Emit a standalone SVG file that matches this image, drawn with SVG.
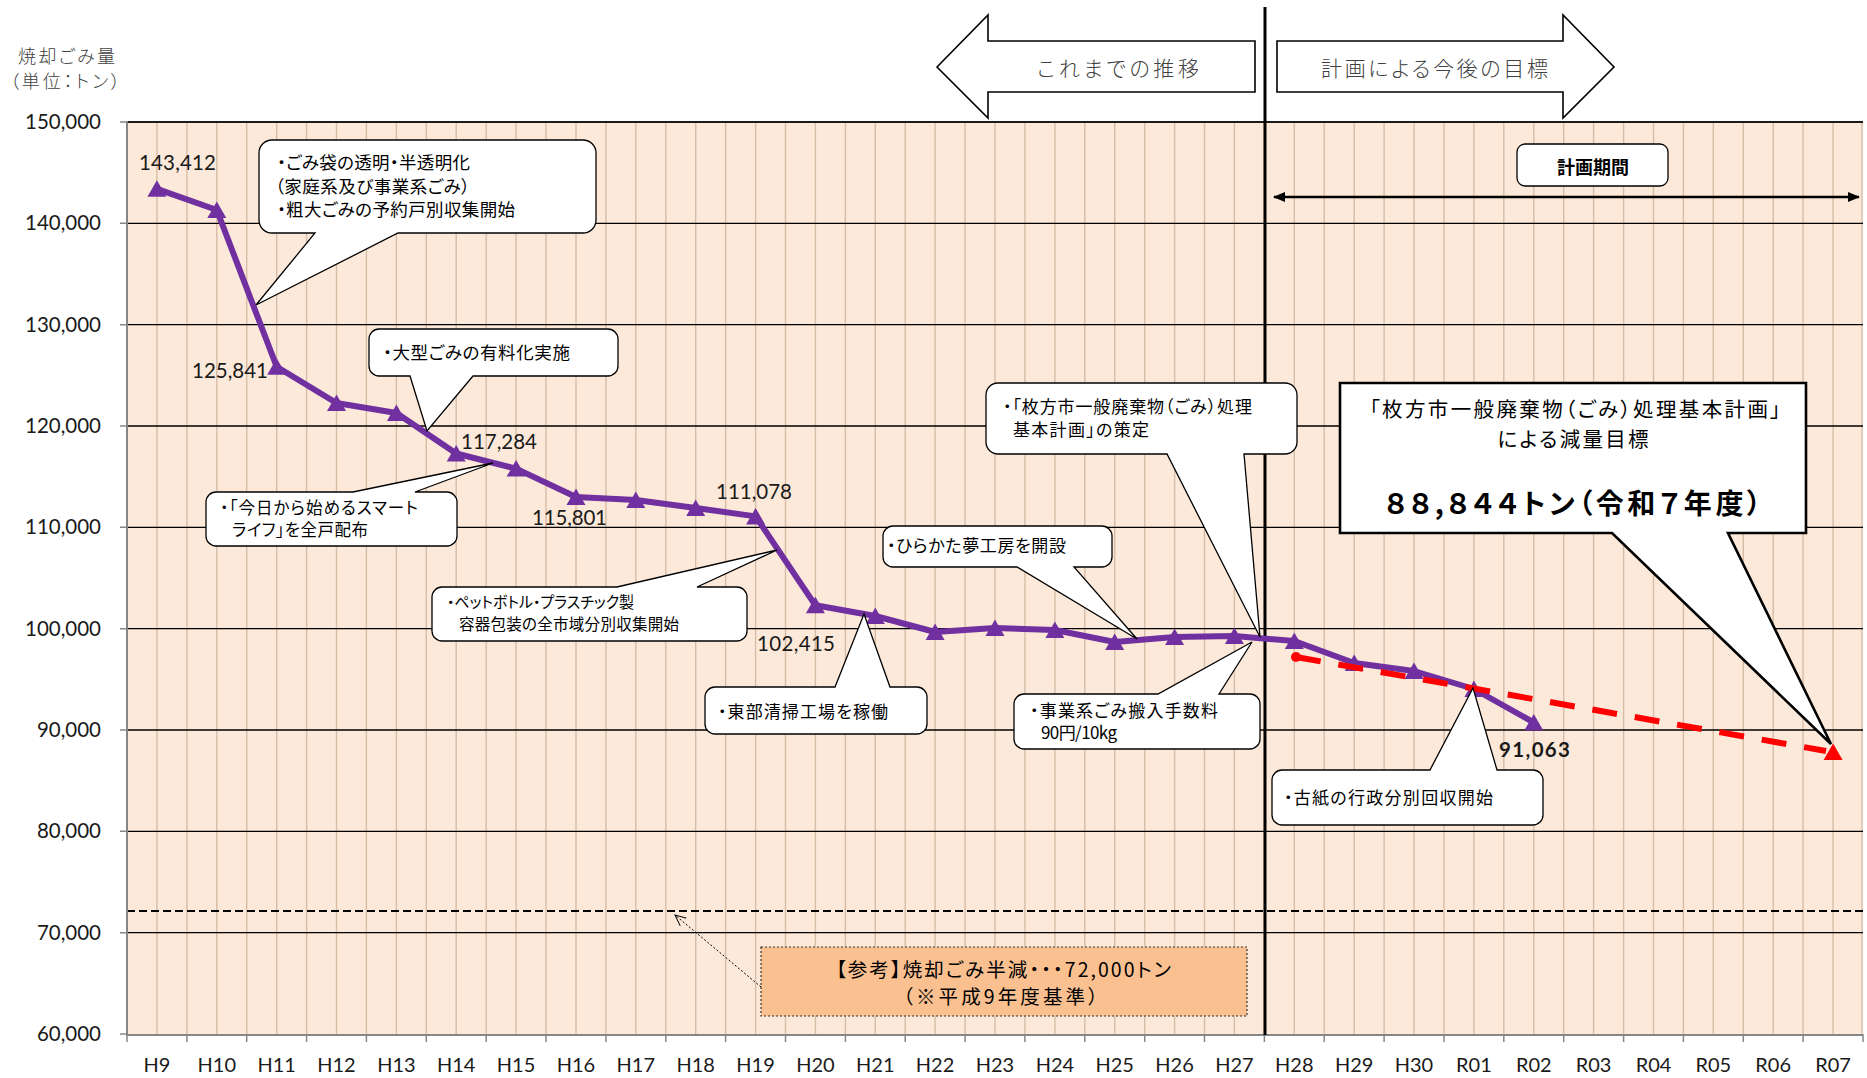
<svg xmlns="http://www.w3.org/2000/svg" xmlns:xlink="http://www.w3.org/1999/xlink" width="1867" height="1078" viewBox="0 0 1867 1078">
<style>
.num{font-family:Lato,"Liberation Sans",sans-serif;font-size:20.5px;fill:#1a1a1a}
.ax{font-family:Lato,"Liberation Sans",sans-serif;font-size:20px;fill:#1a1a1a}
.jp{font-family:"Noto Sans CJK JP","Noto Sans",sans-serif;fill:#000;font-feature-settings:"palt"}
.thin{font-family:"Noto Sans CJK JP","Noto Sans",sans-serif;font-weight:300;fill:#404040;font-feature-settings:"palt"}
.bub{fill:#fff;stroke:#000;stroke-width:1.3;stroke-linejoin:miter}
.grid{stroke:#000;stroke-width:1.3;fill:none}
.vgrid{stroke:#d6bda7;stroke-width:1.4;fill:none}
</style>
<defs>
<path id="tri" d="M0,-8.5 L9.5,8 L-9.5,8 Z"/>
<marker id="ah" viewBox="0 0 12 10" refX="11" refY="5" markerWidth="12" markerHeight="10" markerUnits="userSpaceOnUse" orient="auto-start-reverse">
<path d="M0,0 L12,5 L0,10 Z" fill="#000"/>
</marker>
<marker id="open" viewBox="0 0 12 12" refX="11" refY="6" markerWidth="12" markerHeight="12" markerUnits="userSpaceOnUse" orient="auto">
<path d="M0,1 L11,6 L0,11" fill="none" stroke="#000" stroke-width="1"/>
</marker>
</defs>
<rect width="1867" height="1078" fill="#fff"/>

<g id="plot">
<rect x="127" y="122" width="1736" height="912" fill="#fde9d9"/>
<path class="vgrid" d="M156.9,122V1034M186.9,122V1034M216.8,122V1034M246.7,122V1034M276.7,122V1034M306.6,122V1034M336.5,122V1034M366.4,122V1034M396.4,122V1034M426.3,122V1034M456.2,122V1034M486.2,122V1034M516.1,122V1034M546,122V1034M576,122V1034M605.9,122V1034M635.8,122V1034M665.8,122V1034M695.7,122V1034M725.6,122V1034M755.6,122V1034M785.5,122V1034M815.4,122V1034M845.4,122V1034M875.3,122V1034M905.2,122V1034M935.1,122V1034M965.1,122V1034M995,122V1034M1024.9,122V1034M1054.9,122V1034M1084.8,122V1034M1114.7,122V1034M1144.7,122V1034M1174.6,122V1034M1204.5,122V1034M1234.4,122V1034M1264.4,122V1034M1294.3,122V1034M1324.2,122V1034M1354.2,122V1034M1384.1,122V1034M1414,122V1034M1444,122V1034M1473.9,122V1034M1503.8,122V1034M1533.8,122V1034M1563.7,122V1034M1593.6,122V1034M1623.6,122V1034M1653.5,122V1034M1683.4,122V1034M1713.3,122V1034M1743.3,122V1034M1773.2,122V1034M1803.1,122V1034M1833.1,122V1034M1862,122V1034"/>
<path class="grid" d="M127,223.3H1863M127,324.7H1863M127,426H1863M127,527.3H1863M127,628.7H1863M127,730H1863M127,831.3H1863M127,932.7H1863"/>
<path d="M127,122H1863" stroke="#1a1a1a" stroke-width="2.2"/>
<path d="M127,911H1863" stroke="#000" stroke-width="2" stroke-dasharray="8,4"/>
<path d="M127,121V1035H1863" fill="none" stroke="#868686" stroke-width="2"/>
<path d="M120,122H127M120,223.3H127M120,324.7H127M120,426H127M120,527.3H127M120,628.7H127M120,730H127M120,831.3H127M120,932.7H127M120,1034H127" stroke="#868686" stroke-width="1.5"/>
<path d="M127,1034V1042M186.9,1034V1042M246.7,1034V1042M306.6,1034V1042M366.4,1034V1042M426.3,1034V1042M486.2,1034V1042M546,1034V1042M605.9,1034V1042M665.8,1034V1042M725.6,1034V1042M785.5,1034V1042M845.4,1034V1042M905.2,1034V1042M965.1,1034V1042M1024.9,1034V1042M1084.8,1034V1042M1144.7,1034V1042M1204.5,1034V1042M1264.4,1034V1042M1324.2,1034V1042M1384.1,1034V1042M1444,1034V1042M1503.8,1034V1042M1563.7,1034V1042M1623.6,1034V1042M1683.4,1034V1042M1743.3,1034V1042M1803.1,1034V1042M1863,1034V1042" stroke="#868686" stroke-width="1.5"/>
</g>

<g id="y-axis" class="num" text-anchor="end">
<text x="101" y="129">150,000</text>
<text x="101" y="230.3">140,000</text>
<text x="101" y="331.7">130,000</text>
<text x="101" y="433">120,000</text>
<text x="101" y="534.3">110,000</text>
<text x="101" y="635.7">100,000</text>
<text x="101" y="737">90,000</text>
<text x="101" y="838.3">80,000</text>
<text x="101" y="939.7">70,000</text>
<text x="101" y="1041">60,000</text>
</g>
<g id="y-title" class="thin" font-size="18">
<text x="18" y="63" textLength="97" lengthAdjust="spacing">焼却ごみ量</text>
<text x="10" y="88" textLength="110" lengthAdjust="spacing">（単位：トン）</text>
</g>

<g id="x-axis" class="ax" text-anchor="middle">
<text x="156.9" y="1072">H9</text>
<text x="216.8" y="1072">H10</text>
<text x="276.7" y="1072">H11</text>
<text x="336.5" y="1072">H12</text>
<text x="396.4" y="1072">H13</text>
<text x="456.2" y="1072">H14</text>
<text x="516.1" y="1072">H15</text>
<text x="576" y="1072">H16</text>
<text x="635.8" y="1072">H17</text>
<text x="695.7" y="1072">H18</text>
<text x="755.6" y="1072">H19</text>
<text x="815.4" y="1072">H20</text>
<text x="875.3" y="1072">H21</text>
<text x="935.1" y="1072">H22</text>
<text x="995" y="1072">H23</text>
<text x="1054.9" y="1072">H24</text>
<text x="1114.7" y="1072">H25</text>
<text x="1174.6" y="1072">H26</text>
<text x="1234.4" y="1072">H27</text>
<text x="1294.3" y="1072">H28</text>
<text x="1354.2" y="1072">H29</text>
<text x="1414" y="1072">H30</text>
<text x="1473.9" y="1072">R01</text>
<text x="1533.8" y="1072">R02</text>
<text x="1593.6" y="1072">R03</text>
<text x="1653.5" y="1072">R04</text>
<text x="1713.3" y="1072">R05</text>
<text x="1773.2" y="1072">R06</text>
<text x="1833.1" y="1072">R07</text>
</g>

<g id="divider">
<path d="M1265,7V1035" stroke="#000" stroke-width="3"/>
</g>

<g id="arrow-past">
<path d="M937,67 L988,15 V41 H1255 V92 H988 V118 Z" fill="#fff" stroke="#000" stroke-width="1.6"/>
<text class="thin" x="1037" y="76" font-size="21" textLength="162" lengthAdjust="spacing">これまでの推移</text>
</g>
<g id="arrow-future">
<path d="M1277,41 H1563 V15 L1614,67 L1563,118 V92 H1277 Z" fill="#fff" stroke="#000" stroke-width="1.6"/>
<text class="thin" x="1321" y="76" font-size="21" textLength="227" lengthAdjust="spacing">計画による今後の目標</text>
</g>

<g id="plan-period">
<rect x="1517" y="144" width="151" height="42" rx="8" class="bub"/>
<text class="jp" x="1593" y="173.5" font-size="18" font-weight="bold" text-anchor="middle">計画期間</text>
</g>

<g id="connectors">
<path d="M1274,197 H1859" stroke="#000" stroke-width="2.5" marker-start="url(#ah)" marker-end="url(#ah)"/>
<path d="M761,987 L675,915" stroke="#000" stroke-width="1" stroke-dasharray="2,2" marker-end="url(#open)"/>
</g>

<g id="series-actual">
<polyline points="156.9,188.8 216.8,210 276.7,366.8 336.5,403 396.4,413 456.2,453.5 516.1,468.6 576,497 635.8,500 695.7,508 755.6,516.4 815.4,605.3 875.3,616 935.1,632 995,628 1054.9,630 1114.7,642 1174.6,637 1234.4,636 1294.3,641 1354.2,663 1414,671 1473.9,689 1533.8,722.5" fill="none" stroke="#7030a0" stroke-width="6" stroke-linejoin="round"/>
<g fill="#7030a0">
<use xlink:href="#tri" x="156.9" y="188.8"/>
<use xlink:href="#tri" x="216.8" y="210"/>
<use xlink:href="#tri" x="276.7" y="366.8"/>
<use xlink:href="#tri" x="336.5" y="403"/>
<use xlink:href="#tri" x="396.4" y="413"/>
<use xlink:href="#tri" x="456.2" y="453.5"/>
<use xlink:href="#tri" x="516.1" y="468.6"/>
<use xlink:href="#tri" x="576" y="497"/>
<use xlink:href="#tri" x="635.8" y="500"/>
<use xlink:href="#tri" x="695.7" y="508"/>
<use xlink:href="#tri" x="755.6" y="516.4"/>
<use xlink:href="#tri" x="815.4" y="605.3"/>
<use xlink:href="#tri" x="875.3" y="616"/>
<use xlink:href="#tri" x="935.1" y="632"/>
<use xlink:href="#tri" x="995" y="628"/>
<use xlink:href="#tri" x="1054.9" y="630"/>
<use xlink:href="#tri" x="1114.7" y="642"/>
<use xlink:href="#tri" x="1174.6" y="637"/>
<use xlink:href="#tri" x="1234.4" y="636"/>
<use xlink:href="#tri" x="1294.3" y="641"/>
<use xlink:href="#tri" x="1354.2" y="663"/>
<use xlink:href="#tri" x="1414" y="671"/>
<use xlink:href="#tri" x="1473.9" y="689"/>
<use xlink:href="#tri" x="1533.8" y="722.5"/>
</g>
</g>

<g id="series-target">
<path d="M1296,657 L1826,751" stroke="#ff0000" stroke-width="6" stroke-dasharray="25,18" fill="none"/>
<circle cx="1296" cy="657" r="5" fill="#ff0000"/>
<use xlink:href="#tri" x="1833.1" y="752" fill="#ff0000"/>
</g>

<g id="data-labels" class="num">
<text x="139" y="170" textLength="77">143,412</text>
<text x="192" y="378" textLength="76">125,841</text>
<text x="461" y="449" textLength="76">117,284</text>
<text x="532" y="525" textLength="75">115,801</text>
<text x="716" y="499" textLength="76">111,078</text>
<text x="757" y="651" textLength="78">102,415</text>
<text x="1499" y="757" textLength="71" font-weight="bold">91,063</text>
</g>

<g id="ref-box">
<rect x="761" y="947" width="486" height="69" fill="#fac090" stroke="#333" stroke-width="1.2" stroke-dasharray="2,2"/>
<text class="jp" x="836" y="977" font-size="19.5" textLength="335" lengthAdjust="spacing">【参考】焼却ごみ半減・・・72,000トン</text>
<text class="jp" x="903" y="1004" font-size="19.5" textLength="195" lengthAdjust="spacing">（※平成9年度基準）</text>
</g>

<g id="callout-bags">
<path class="bub" d="M272,140 H583 A13,13 0 0 1 596,153 V220 A13,13 0 0 1 583,233 H398 L256,305 L315,233 H272 A13,13 0 0 1 259,220 V153 A13,13 0 0 1 272,140 Z"/>
<g class="jp" font-size="17.5">
<text x="277" y="169" textLength="193" lengthAdjust="spacing">・ごみ袋の透明・半透明化</text>
<text x="275" y="193" textLength="195" lengthAdjust="spacing">（家庭系及び事業系ごみ）</text>
<text x="277" y="216" textLength="238" lengthAdjust="spacing">・粗大ごみの予約戸別収集開始</text>
</g>
</g>

<g id="callout-large">
<path class="bub" d="M379,329 H608 A10,10 0 0 1 618,339 V366 A10,10 0 0 1 608,376 H473 L427,431 L410,376 H379 A10,10 0 0 1 369,366 V339 A10,10 0 0 1 379,329 Z"/>
<text class="jp" x="383" y="359" font-size="17.5" textLength="187" lengthAdjust="spacing">・大型ごみの有料化実施</text>
</g>

<g id="callout-smartlife">
<path class="bub" d="M216,492 H353 L493,463 L415,492 H447 A10,10 0 0 1 457,502 V536 A10,10 0 0 1 447,546 H216 A10,10 0 0 1 206,536 V502 A10,10 0 0 1 216,492 Z"/>
<g class="jp" font-size="16.5">
<text x="220" y="514" textLength="198" lengthAdjust="spacing">・「今日から始めるスマート</text>
<text x="232" y="536" textLength="136" lengthAdjust="spacing">ライフ」を全戸配布</text>
</g>
</g>

<g id="callout-pet">
<path class="bub" d="M442,587 H617 L777,550 L697,587 H737 A10,10 0 0 1 747,597 V631 A10,10 0 0 1 737,641 H442 A10,10 0 0 1 432,631 V597 A10,10 0 0 1 442,587 Z"/>
<g class="jp" font-size="15.5">
<text x="447" y="607.5" textLength="187" lengthAdjust="spacingAndGlyphs">・ペットボトル・プラスチック製</text>
<text x="459" y="629.5" textLength="220" lengthAdjust="spacing">容器包装の全市域分別収集開始</text>
</g>
</g>

<g id="callout-yumekobo">
<path class="bub" d="M893,526 H1102 A10,10 0 0 1 1112,536 V557 A10,10 0 0 1 1102,567 H1074 L1137,639 L1017,567 H893 A10,10 0 0 1 883,557 V536 A10,10 0 0 1 893,526 Z"/>
<text class="jp" x="887" y="552" font-size="17" textLength="179" lengthAdjust="spacing">・ひらかた夢工房を開設</text>
</g>

<g id="callout-tobu">
<path class="bub" d="M715,687 H835 L864,614 L890,687 H917 A10,10 0 0 1 927,697 V724 A10,10 0 0 1 917,734 H715 A10,10 0 0 1 705,724 V697 A10,10 0 0 1 715,687 Z"/>
<text class="jp" x="718" y="718" font-size="17" textLength="170" lengthAdjust="spacing">・東部清掃工場を稼働</text>
</g>

<g id="callout-plan">
<path class="bub" d="M998,383 H1285 A12,12 0 0 1 1297,395 V442 A12,12 0 0 1 1285,454 H1244 L1260,637 L1167,454 H998 A12,12 0 0 1 986,442 V395 A12,12 0 0 1 998,383 Z"/>
<g class="jp" font-size="17">
<text x="1003" y="413" textLength="249" lengthAdjust="spacing">・「枚方市一般廃棄物（ごみ）処理</text>
<text x="1013" y="436" textLength="136" lengthAdjust="spacing">基本計画」の策定</text>
</g>
</g>

<g id="callout-fee">
<path class="bub" d="M1024,694 H1158 L1252,642 L1219,694 H1250 A10,10 0 0 1 1260,704 V739 A10,10 0 0 1 1250,749 H1024 A10,10 0 0 1 1014,739 V704 A10,10 0 0 1 1024,694 Z"/>
<g class="jp" font-size="17">
<text x="1030" y="717" textLength="188" lengthAdjust="spacing">・事業系ごみ搬入手数料</text>
<text x="1041" y="739" textLength="76" lengthAdjust="spacing">90円/10kg</text>
</g>
</g>

<g id="callout-paper">
<path class="bub" d="M1282,770 H1430 L1473,688 L1497,770 H1533 A10,10 0 0 1 1543,780 V815 A10,10 0 0 1 1533,825 H1282 A10,10 0 0 1 1272,815 V780 A10,10 0 0 1 1282,770 Z"/>
<text class="jp" x="1284" y="804" font-size="17" textLength="209" lengthAdjust="spacing">・古紙の行政分別回収開始</text>
</g>

<g id="callout-target">
<path d="M1340,383 H1806 V533 H1728 L1831,744 L1612,533 H1340 Z" fill="#fff" stroke="#000" stroke-width="2.6" stroke-linejoin="miter"/>
<g class="jp" text-anchor="middle">
<text x="1575" y="417" font-size="20.5" textLength="411" lengthAdjust="spacing">「枚方市一般廃棄物（ごみ）処理基本計画」</text>
<text x="1573" y="447" font-size="20.5" textLength="151" lengthAdjust="spacing">による減量目標</text>
<text x="1573" y="514" font-size="28" font-weight="bold" textLength="376" lengthAdjust="spacing">８８,８４４トン（令和７年度）</text>
</g>
</g>
</svg>
